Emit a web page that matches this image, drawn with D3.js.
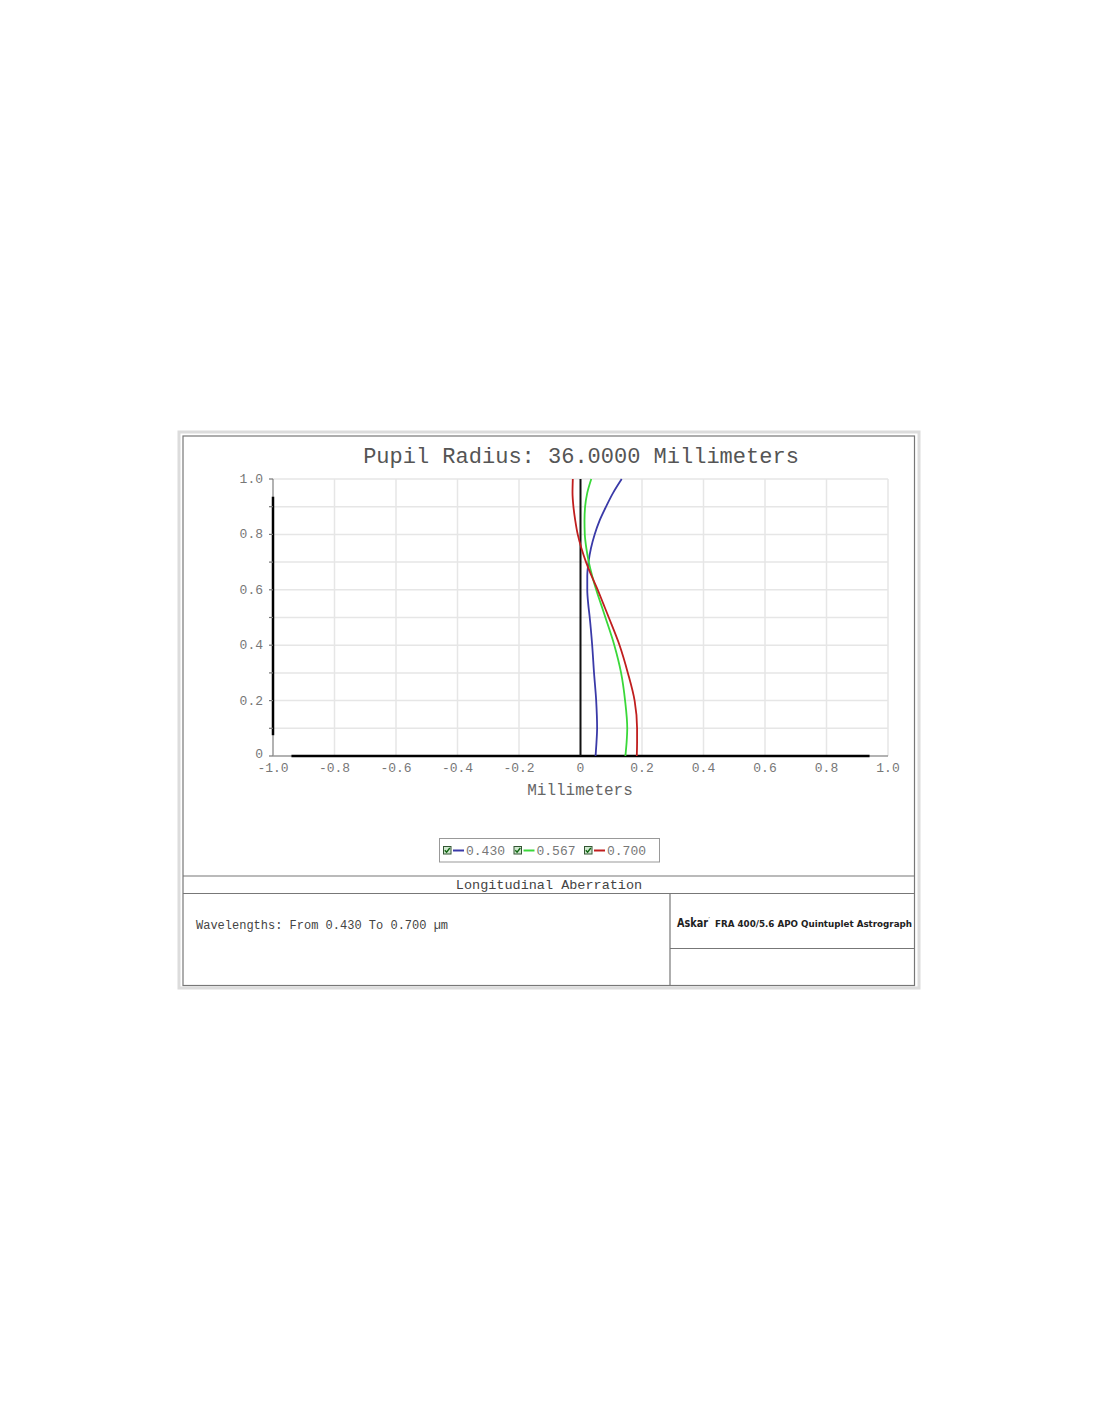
<!DOCTYPE html>
<html><head><meta charset="utf-8">
<script src="https://cdn.jsdelivr.net/npm/d3@7/dist/d3.min.js"></script>
<style>body{margin:0;background:#fff}svg{display:block}</style>
</head><body>
<svg id="c" width="1100" height="1422"></svg>
<script>
const pupil = [0, 0.05, 0.1, 0.2, 0.3, 0.4, 0.5, 0.55, 0.6, 0.65, 0.7, 0.75, 0.8, 0.85, 0.9, 0.95, 1.0];
const seriesNames = ["0.430", "0.567", "0.700"];
const blue430 = [0.049, 0.052, 0.054, 0.051, 0.044, 0.038, 0.030, 0.025, 0.022, 0.022, 0.026, 0.034, 0.046, 0.062, 0.083, 0.106, 0.134];
const green567 = [0.146, 0.150, 0.152, 0.145, 0.132, 0.110, 0.081, 0.066, 0.051, 0.038, 0.027, 0.019, 0.014, 0.013, 0.015, 0.022, 0.035];
const red700 = [0.183, 0.184, 0.184, 0.176, 0.154, 0.127, 0.092, 0.074, 0.056, 0.036, 0.018, 0.003, -0.009, -0.017, -0.023, -0.026, -0.025];
const xTicks = [-1.0, -0.8, -0.6, -0.4, -0.2, 0, 0.2, 0.4, 0.6, 0.8, 1.0];
const xTickLabels = ["-1.0", "-0.8", "-0.6", "-0.4", "-0.2", "0", "0.2", "0.4", "0.6", "0.8", "1.0"];
const yTicks = [0, 0.2, 0.4, 0.6, 0.8, 1.0];
const yTickLabels = ["0", "0.2", "0.4", "0.6", "0.8", "1.0"];
const yMinor = [0.1, 0.2, 0.3, 0.4, 0.5, 0.6, 0.7, 0.8, 0.9, 1.0];
const colors = ["#3a3aa8", "#3ad83a", "#c01e1e"];
const titleText = "Pupil Radius: 36.0000 Millimeters";
const xLabel = "Millimeters";
const footerTitle = "Longitudinal Aberration";
const wavelengthText = "Wavelengths: From 0.430 To 0.700 \u00b5m";

const svg = d3.select("#c");
const mono = "'Liberation Mono', 'Courier New', monospace";
const x = d3.scaleLinear().domain([-1, 1]).range([273, 888]);
const y = d3.scaleLinear().domain([0, 1]).range([756, 479]);

// outer frame
svg.append("rect").attr("x", 179).attr("y", 432).attr("width", 740).attr("height", 556)
  .attr("fill", "none").attr("stroke", "#dcdcdc").attr("stroke-width", 3);
svg.append("rect").attr("x", 183).attr("y", 436).attr("width", 731.5).attr("height", 549.5)
  .attr("fill", "#fff").attr("stroke", "#777").attr("stroke-width", 1.2);

// gridlines
const g = svg.append("g");
g.selectAll("line.hg").data(yMinor).join("line")
  .attr("x1", x(-1)).attr("x2", x(1)).attr("y1", d => y(d)).attr("y2", d => y(d))
  .attr("stroke", "#e6e6e6").attr("stroke-width", 1.5);
g.selectAll("line.vg").data(xTicks.filter(d => d > -1 && d !== 0)).join("line")
  .attr("x1", d => x(d)).attr("x2", d => x(d)).attr("y1", y(0)).attr("y2", y(1))
  .attr("stroke", "#e6e6e6").attr("stroke-width", 1.5);

// y axis
g.append("line").attr("x1", x(-1)).attr("x2", x(-1)).attr("y1", y(0)).attr("y2", y(1))
  .attr("stroke", "#999").attr("stroke-width", 1.5);
g.append("line").attr("x1", x(-1)).attr("x2", x(-1)).attr("y1", y(0.075)).attr("y2", y(0.936))
  .attr("stroke", "#000").attr("stroke-width", 2.5);
g.selectAll("line.yt").data([0].concat(yMinor)).join("line")
  .attr("x1", x(-1) - 4).attr("x2", x(-1)).attr("y1", d => y(d)).attr("y2", d => y(d))
  .attr("stroke", "#777").attr("stroke-width", 1.2);
g.selectAll("text.yl").data(yTicks).join("text")
  .attr("x", 263).attr("y", d => y(d) + (d === 0 ? 2 : 4)).attr("text-anchor", "end")
  .attr("font-family", mono).attr("font-size", 13).attr("fill", "#777")
  .text((d, i) => yTickLabels[i]);

// x axis
g.append("line").attr("x1", x(-1)).attr("x2", x(1)).attr("y1", y(0)).attr("y2", y(0))
  .attr("stroke", "#999").attr("stroke-width", 1.5);
g.append("line").attr("x1", x(-0.94)).attr("x2", x(0.94)).attr("y1", y(0)).attr("y2", y(0))
  .attr("stroke", "#000").attr("stroke-width", 2.5);
g.selectAll("text.xl").data(xTicks).join("text")
  .attr("x", d => x(d)).attr("y", 772).attr("text-anchor", "middle")
  .attr("font-family", mono).attr("font-size", 13).attr("fill", "#777")
  .text((d, i) => xTickLabels[i]);

// zero line
g.append("line").attr("x1", x(0)).attr("x2", x(0)).attr("y1", y(0)).attr("y2", y(1))
  .attr("stroke", "#111").attr("stroke-width", 2);

// curves (ordered top to bottom in pixel space)
const allSeries = [blue430, green567, red700];
const line = d3.line().x(d => x(d[0])).y(d => y(d[1])).curve(d3.curveMonotoneY);
allSeries.forEach((s, i) => {
  const pts = s.map((v, j) => [v, pupil[j]]).reverse();
  g.append("path").datum(pts)
    .attr("d", line).attr("fill", "none").attr("stroke", colors[i]).attr("stroke-width", 1.8);
});

// title & axis label
svg.append("text").attr("x", 581).attr("y", 463).attr("text-anchor", "middle")
  .attr("font-family", mono).attr("font-size", 22).attr("fill", "#555").text(titleText);
svg.append("text").attr("x", 580).attr("y", 795).attr("text-anchor", "middle")
  .attr("font-family", mono).attr("font-size", 16).attr("fill", "#666").text(xLabel);

// legend
svg.append("rect").attr("x", 439.5).attr("y", 838.5).attr("width", 220).attr("height", 23.5)
  .attr("fill", "#fff").attr("stroke", "#999").attr("stroke-width", 1);
const legX = [443, 513.5, 584];
seriesNames.forEach((n, i) => {
  const lg = svg.append("g").attr("transform", `translate(${legX[i]},846)`);
  lg.append("rect").attr("x", 0.5).attr("y", 0.5).attr("width", 7.5).attr("height", 7.5)
    .attr("fill", "#cfe8cf").attr("stroke", "#335533").attr("stroke-width", 1);
  lg.append("path").attr("d", "M1.8,4.2 L3.6,6.2 L6.8,2").attr("fill", "none")
    .attr("stroke", "#116611").attr("stroke-width", 1.4);
  lg.append("line").attr("x1", 10).attr("x2", 21).attr("y1", 4.5).attr("y2", 4.5)
    .attr("stroke", colors[i]).attr("stroke-width", 2);
  lg.append("text").attr("x", 23).attr("y", 8.5).attr("font-family", mono)
    .attr("font-size", 13).attr("fill", "#777").text(n);
});

// footer frame
const fl = svg.append("g").attr("stroke", "#777").attr("stroke-width", 1.2);
fl.append("line").attr("x1", 183).attr("x2", 914.5).attr("y1", 876).attr("y2", 876);
fl.append("line").attr("x1", 183).attr("x2", 914.5).attr("y1", 893.5).attr("y2", 893.5);
fl.append("line").attr("x1", 670).attr("x2", 670).attr("y1", 893.5).attr("y2", 985.5);
fl.append("line").attr("x1", 670).attr("x2", 914.5).attr("y1", 948.5).attr("y2", 948.5);

svg.append("text").attr("x", 549).attr("y", 889).attr("text-anchor", "middle")
  .attr("font-family", mono).attr("font-size", 13.5).attr("fill", "#444").text(footerTitle);
svg.append("text").attr("x", 196).attr("y", 929)
  .attr("font-family", mono).attr("font-size", 12).attr("fill", "#444").text(wavelengthText);

const sans = "'DejaVu Sans', 'Noto Sans', sans-serif";
svg.append("text").attr("x", 677).attr("y", 927).attr("font-family", sans)
  .attr("font-weight", "bold").attr("font-size", 11.5).attr("fill", "#222")
  .attr("textLength", 31).attr("lengthAdjust", "spacingAndGlyphs").text("Askar");
svg.append("text").attr("x", 708.5).attr("y", 921).attr("font-family", sans)
  .attr("font-weight", "bold").attr("font-size", 5).attr("fill", "#222").text("\u2032");
svg.append("text").attr("x", 715).attr("y", 927).attr("font-family", sans)
  .attr("font-weight", "bold").attr("font-size", 8.5).attr("fill", "#222")
  .attr("textLength", 197).attr("lengthAdjust", "spacingAndGlyphs")
  .text("FRA 400/5.6 APO Quintuplet Astrograph");
</script>
</body></html>
